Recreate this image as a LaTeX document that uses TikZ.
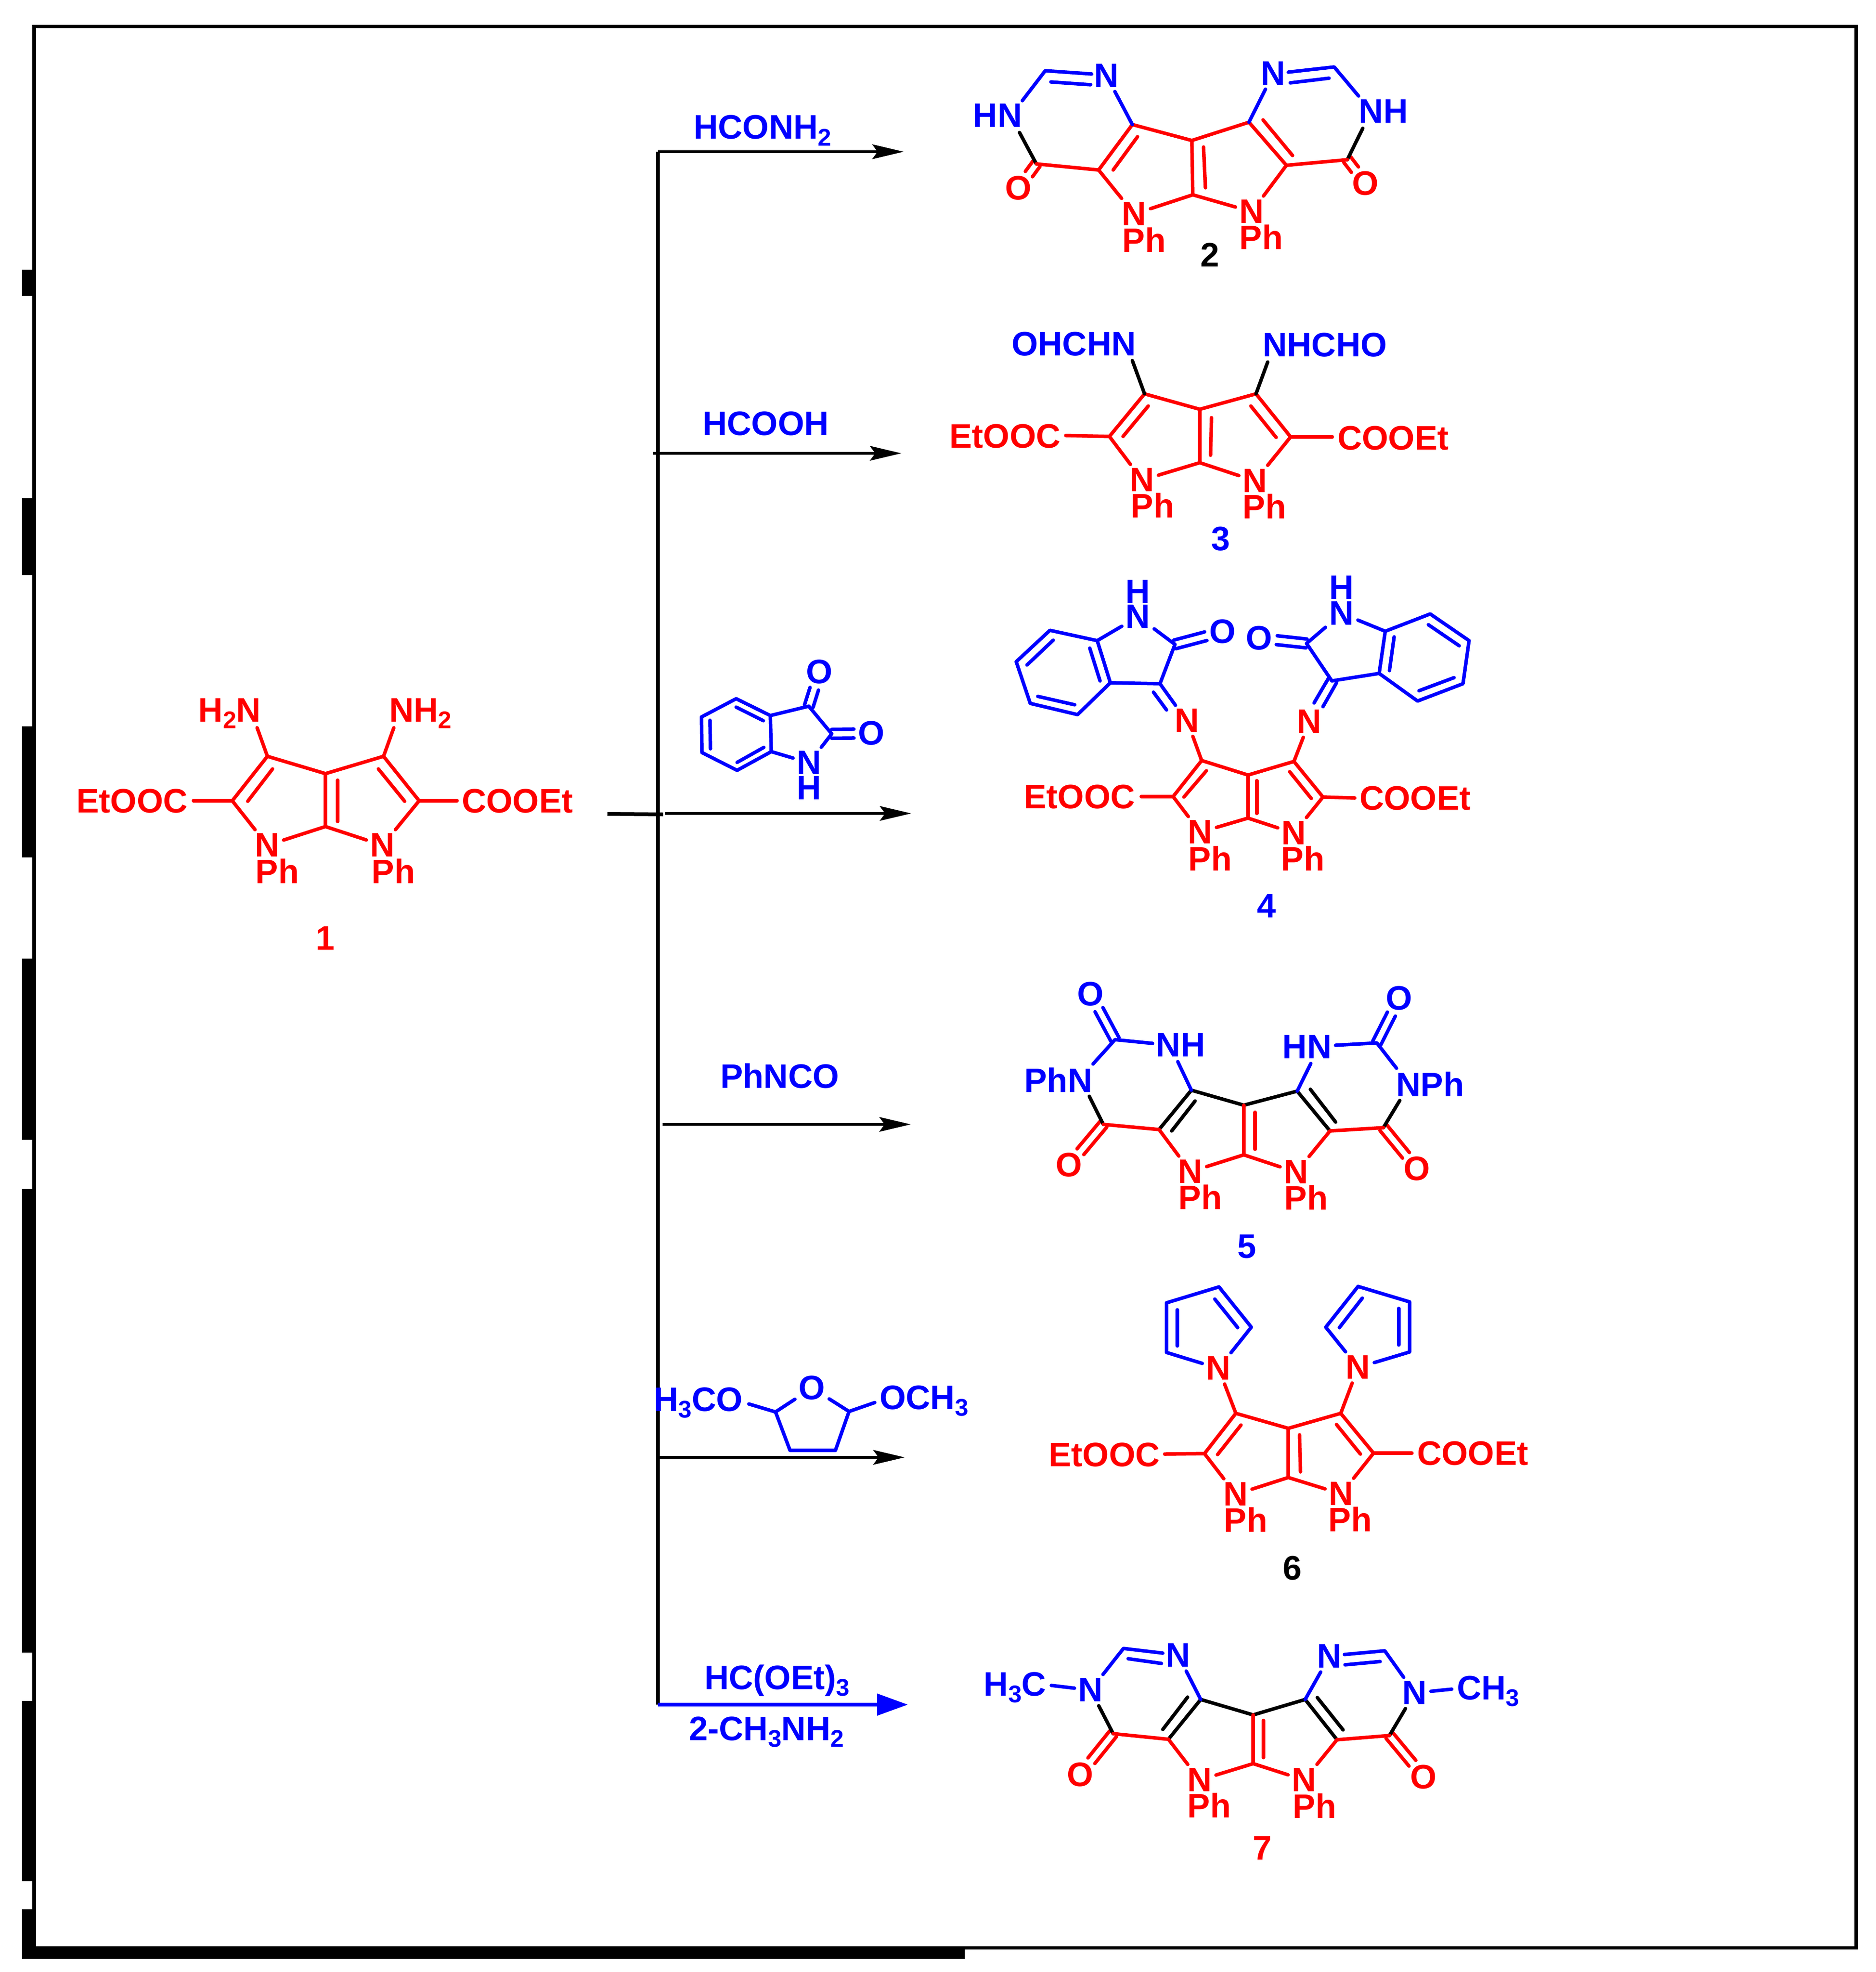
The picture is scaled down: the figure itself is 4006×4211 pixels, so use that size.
\documentclass[tikz,border=0pt]{standalone}
\usepackage{fontspec}
\setmainfont{Liberation Sans}
\usetikzlibrary{arrows.meta,calc}
\newcommand\Pt[2]{\coordinate (#1) at (#2);}
\newcommand\Sb[1]{\raisebox{-2.8pt}{\fontsize{10.3}{11}\selectfont #1}}
% parallel double bond from a coordinate to an atom node
\newcommand\CO[3]{%
  \draw[bond,#3,shorten >=7.5pt] ($(#1.center)!1.9pt!90:(#2.center)$) -- ($(#2.center)!1.9pt!-90:(#1.center)$);
  \draw[bond,#3,shorten >=7.5pt] ($(#1.center)!1.9pt!-90:(#2.center)$) -- ($(#2.center)!1.9pt!90:(#1.center)$);}
% bicyclic core: expects the coordinates <p>T,B,LT,RT,LM,RM,NLp,NRp,PLp,PRp,IL1,IL2,IR1,IR2,IC1,IC2
\newcommand\Core[2]{%
  \node[atom,red] (#1NL) at (#1NLp) {N};
  \node[atom,red] (#1NR) at (#1NRp) {N};
  \node[lab,red] (#1PL) at (#1PLp) {Ph};
  \node[lab,red] (#1PR) at (#1PRp) {Ph};
  \draw[bond,#2] (#1LM)--(#1LT)--(#1T)--(#1RT)--(#1RM);
  \draw[bond,#2] (#1IL1)--(#1IL2);
  \draw[bond,#2] (#1IR1)--(#1IR2);
  \draw[bond,red] (#1T)--(#1B);
  \draw[bond,red] (#1IC1)--(#1IC2);
  \draw[bond,red] (#1LM)--(#1NL);
  \draw[bond,red] (#1B)--(#1NL);
  \draw[bond,red] (#1B)--(#1NR);
  \draw[bond,red] (#1RM)--(#1NR);}
\tikzset{
  bond/.style={line width=1.5pt,line cap=round,line join=round},
  atom/.style={font=\fontsize{14.5}{16}\selectfont\bfseries,inner sep=1.5pt},
  lab/.style={font=\fontsize{14.5}{16}\selectfont\bfseries,inner sep=0pt},
  conn/.style={line width=1.6pt,black},
  rxn/.style={line width=1.35pt,black,-{Stealth[length=13.4pt,width=6.2pt,inset=2.2pt]}},
  rxnblue/.style={line width=1.7pt,blue,-{Triangle[length=13.2pt,width=9pt]}},
  frameline/.style={line width=1.55pt,black},
}
\begin{document}
\begin{tikzpicture}[x=0.2pt,y=-0.2pt]
\useasboundingbox (0,0) rectangle (4006,4211);
% frame and the heavy marks along its left and lower edges
\draw[frameline] (73,56.5) rectangle (3964,4159.5);
\fill[black] (47,576) rectangle (73,632);
\fill[black] (47,1064) rectangle (73,1228);
\fill[black] (47,1551) rectangle (73,1831);
\fill[black] (47,2047) rectangle (73,2434);
\fill[black] (47,2539) rectangle (73,3529);
\fill[black] (47,3632) rectangle (73,4017);
\fill[black] (47,4077) rectangle (73,4183);
\fill[black] (47,4156) rectangle (2060,4183);

% reaction scheme lines
\Pt{vTop}{1405,324}\Pt{vBot}{1405,3640}
\Pt{a1e}{1930,324}
\Pt{a2s}{1394,968}\Pt{a2e}{1925,968}
\Pt{a3a}{1297,1738}\Pt{a3b}{1416,1739}\Pt{a3c}{1420,1737}\Pt{a3e}{1946,1737}
\Pt{a4s}{1415,2401}\Pt{a4e}{1945,2401}
\Pt{a5s}{1405,3112}\Pt{a5e}{1932,3112}
\Pt{a6e}{1939,3640}\Pt{a6s}{1405,3640}
\draw[conn] (vTop)--(a6s);
\draw[rxn] (vTop)--(a1e);
\draw[rxn] (a2s)--(a2e);
\draw[conn] (a3a)--(a3b);
\draw[rxn] (a3c)--(a3e);
\draw[rxn] (a4s)--(a4e);
\draw[rxn] (a5s)--(a5e);
\draw[rxnblue] (a6s)--(a6e);

% reagents
\node[lab,blue,anchor=base west] (r1) at (1480,297) {HCONH\Sb{2}};
\node[lab,blue] (r2) at (1635,905) {HCOOH};
\node[lab,blue] (r4) at (1665,2298) {PhNCO};
\node[lab,blue,anchor=base west] (r6a) at (1503,3607) {HC(OEt)\Sb{3}};
\node[lab,blue,anchor=base west] (r6b) at (1470,3716) {2-CH\Sb{3}NH\Sb{2}};

% isatin reagent
\Pt{iA}{1572,1492}\Pt{iB}{1498,1531}\Pt{iC}{1499,1607}\Pt{iD}{1574,1645}\Pt{iE}{1647,1605}\Pt{iF}{1645,1528}\Pt{iG}{1727,1508}\Pt{iH}{1776,1567}
\node[atom,blue] (iN) at (1728,1629) {N};
\node[lab,blue] (iNH) at (1728,1683) {H};
\node[atom,blue] (iO1) at (1750,1435) {O};
\node[atom,blue] (iO2) at (1861,1566) {O};
\CO{iG}{iO1}{blue}
\CO{iH}{iO2}{blue}
\draw[bond,blue] (iF)--(iA)--(iB)--(iC)--(iD)--(iE)--(iF)--(iG)--(iH)--(iN);
\draw[bond,blue] (iE)--(iN);
\draw[bond,blue] (1572,1510)--(1630,1539);
\draw[bond,blue] (1516,1538)--(1517,1599);
\draw[bond,blue] (1574,1628)--(1631,1596);

% dimethoxytetrahydrofuran reagent
\Pt{fC1}{1656,3015}\Pt{fC2}{1813,3014}\Pt{fC3}{1784,3097}\Pt{fC4}{1687,3097}
\node[atom,blue] (fO) at (1734,2964) {O};
\node[lab,blue,anchor=base east] (fL) at (1587,3013) {H\Sb{3}CO};
\node[lab,blue,anchor=base west] (fR) at (1877,3009) {OCH\Sb{3}};
\Pt{fLe}{1599,2998}\Pt{fRe}{1868,2995}
\draw[bond,blue] (fLe)--(fC1)--(fO);
\draw[bond,blue] (fRe)--(fC2)--(fO);
\draw[bond,blue] (fC1)--(fC4)--(fC3)--(fC2);

% compound 1
\Pt{aT}{695,1652}\Pt{aB}{695,1765}\Pt{aLT}{571,1615}\Pt{aRT}{819,1615}\Pt{aLM}{496,1710}\Pt{aRM}{895,1710}
\Pt{aNLp}{571,1805}\Pt{aNRp}{817,1805}\Pt{aPLp}{592,1860}\Pt{aPRp}{840,1860}
\Pt{aIL1}{582,1642}\Pt{aIL2}{529,1711}\Pt{aIR1}{808,1642}\Pt{aIR2}{864,1711}\Pt{aIC1}{721,1666}\Pt{aIC2}{721,1754}
\Core{a}{red}
\node[lab,red] (aE1) at (282,1711) {EtOOC};
\node[lab,red] (aE2) at (1105,1711) {COOEt};
\node[lab,red,anchor=base east] (aA1) at (558,1541) {H\Sb{2}N};
\node[lab,red,anchor=base west] (aA2) at (830,1541) {NH\Sb{2}};
\node[lab,red] (n1) at (695,2004) {1};
\Pt{aE1e}{413,1710}\Pt{aE2e}{976,1710}\Pt{aA1e}{549,1554}\Pt{aA2e}{841,1554}
\draw[bond,red] (aE1e)--(aLM);
\draw[bond,red] (aE2e)--(aRM);
\draw[bond,red] (aA1e)--(aLT);
\draw[bond,red] (aA2e)--(aRT);

% compound 2
\Pt{bT}{2545,300}\Pt{bB}{2547,416}\Pt{bLT}{2418,266}\Pt{bRT}{2667,261}\Pt{bLM}{2346,363}\Pt{bRM}{2747,353}
\Pt{bNLp}{2422,457}\Pt{bNRp}{2673,452}\Pt{bPLp}{2443,512}\Pt{bPRp}{2693,506}
\Pt{bIL1}{2429,292}\Pt{bIL2}{2377,363}\Pt{bIR1}{2697,256}\Pt{bIR2}{2760,332}\Pt{bIC1}{2570,314}\Pt{bIC2}{2574,401}
\Core{b}{red}
\Pt{bCL}{2213,350}\Pt{bCR}{2877,341}\Pt{bCH1}{2232,151}\Pt{bCH2}{2849,143}
\node[atom,red] (bOL) at (2175,402) {O};
\node[atom,red] (bOR) at (2916,392) {O};
\node[lab,blue] (bHN) at (2130,247) {HN};
\node[lab,blue] (bNH) at (2954,238) {NH};
\node[atom,blue] (bN1) at (2363,162) {N};
\node[atom,blue] (bN2) at (2719,157) {N};
\node[lab] (n2) at (2584,544) {2};
\CO{bCL}{bOL}{red}
\CO{bCR}{bOR}{red}
\Pt{bHNa}{2183,215}\Pt{bHNb}{2177,283}\Pt{bNHa}{2901,205}\Pt{bNHb}{2910,274}
\draw[bond,blue] (bHNa)--(bCH1)--(2331,158);
\draw[bond,blue] (2244,175)--(2329,181);
\draw[bond,blue] (bNHa)--(bCH2)--(2751,154);
\draw[bond,blue] (2838,167)--(2755,177);
\draw[bond,blue] (bN1)--(bLT);
\draw[bond,blue] (bN2)--(bRT);
\draw[bond,black] (bHNb)--(bCL);
\draw[bond,black] (bNHb)--(bCR);
\draw[bond,red] (bCL)--(bLM);
\draw[bond,red] (bCR)--(bRM);

% compound 3
\Pt{cT}{2562,874}\Pt{cB}{2562,988}\Pt{cLT}{2444,841}\Pt{cRT}{2682,841}\Pt{cLM}{2369,932}\Pt{cRM}{2756,933}
\Pt{cNLp}{2439,1025}\Pt{cNRp}{2680,1027}\Pt{cPLp}{2461,1079}\Pt{cPRp}{2700,1081}
\Pt{cIL1}{2452,867}\Pt{cIL2}{2398,932}\Pt{cIR1}{2671,867}\Pt{cIR2}{2725,934}\Pt{cIC1}{2587,892}\Pt{cIC2}{2585,972}
\Core{c}{red}
\node[lab,red] (cE1) at (2146,932) {EtOOC};
\node[lab,red] (cE2) at (2975,936) {COOEt};
\node[lab,blue] (cF1) at (2293,735) {OHCHN};
\node[lab,blue] (cF2) at (2829,737) {NHCHO};
\node[lab,blue] (n3) at (2607,1151) {3};
\Pt{cE1e}{2276,930}\Pt{cE2e}{2845,933}\Pt{cF1e}{2418,770}\Pt{cF2e}{2707,773}
\draw[bond,red] (cE1e)--(cLM);
\draw[bond,red] (cE2e)--(cRM);
\draw[bond,black] (cF1e)--(cLT);
\draw[bond,black] (cF2e)--(cRT);

% compound 4
\Pt{dT}{2665,1655}\Pt{dB}{2665,1747}\Pt{dLT}{2566,1624}\Pt{dRT}{2763,1626}\Pt{dLM}{2505,1701}\Pt{dRM}{2825,1702}
\Pt{dNLp}{2563,1777}\Pt{dNRp}{2763,1779}\Pt{dPLp}{2584,1833}\Pt{dPRp}{2782,1833}
\Pt{dIL1}{2576,1646}\Pt{dIL2}{2528,1702}\Pt{dIR1}{2754,1648}\Pt{dIR2}{2800,1705}\Pt{dIC1}{2684,1667}\Pt{dIC2}{2684,1737}
\Core{d}{red}
\node[lab,red] (dE1) at (2305,1702) {EtOOC};
\node[lab,red] (dE2) at (3022,1705) {COOEt};
\node[lab,blue] (n4) at (2705,1935) {4};
\Pt{dE1e}{2437,1701}\Pt{dE2e}{2893,1704}
\draw[bond,red] (dE1e)--(dLM);
\draw[bond,red] (dE2e)--(dRM);
\node[atom,red] (dNA) at (2535,1539) {N};
\node[atom,red] (dNB) at (2796,1541) {N};
\draw[bond,red] (dNA)--(dLT);
\draw[bond,red] (dNB)--(dRT);
% left isatin unit
\Pt{eC3}{2477,1460}\Pt{eC2}{2509,1376}\Pt{eA}{2343,1368}\Pt{eB}{2371,1458}\Pt{eC}{2242,1346}\Pt{eD}{2170,1413}\Pt{eE}{2200,1502}\Pt{eF}{2301,1526}
\node[atom,blue] (eN) at (2430,1317) {N};
\node[lab,blue] (eH) at (2430,1264) {H};
\node[atom,blue] (eO) at (2611,1349) {O};
\CO{eC2}{eO}{blue}
\draw[bond,blue] (eC3)--(2510,1506);
\draw[bond,blue] (2463,1478)--(2491,1516);
\draw[bond,blue] (eC3)--(eC2)--(eN)--(eA)--(eB)--(eC3);
\draw[bond,blue] (eA)--(eC)--(eD)--(eE)--(eF)--(eB);
\draw[bond,blue] (2327,1384)--(2349,1454);
\draw[bond,blue] (2249,1367)--(2193,1420);
\draw[bond,blue] (2216,1487)--(2295,1505);
% right isatin unit
\Pt{gC3}{2844,1454}\Pt{gC2}{2790,1374}\Pt{gA}{2958,1348}\Pt{gB}{2945,1438}\Pt{gC}{3054,1311}\Pt{gD}{3137,1368}\Pt{gE}{3124,1460}\Pt{gF}{3027,1497}
\node[atom,blue] (gN) at (2865,1310) {N};
\node[lab,blue] (gH) at (2865,1255) {H};
\node[atom,blue] (gO) at (2689,1363) {O};
\CO{gC2}{gO}{blue}
\draw[bond,blue] (2854,1458)--(2825,1509);
\draw[bond,blue] (2837,1448)--(2806,1501);
\draw[bond,blue] (gC3)--(gC2)--(gN)--(gA)--(gB)--(gC3);
\draw[bond,blue] (gA)--(gC)--(gD)--(gE)--(gF)--(gB);
\draw[bond,blue] (2977,1360)--(2967,1432);
\draw[bond,blue] (3050,1334)--(3116,1379);
\draw[bond,blue] (3105,1447)--(3030,1475);

% compound 5
\Pt{hT}{2656,2360}\Pt{hB}{2656,2466}\Pt{hLT}{2544,2328}\Pt{hRT}{2770,2330}\Pt{hLM}{2475,2412}\Pt{hRM}{2840,2415}
\Pt{hNLp}{2542,2502}\Pt{hNRp}{2768,2503}\Pt{hPLp}{2563,2556}\Pt{hPRp}{2789,2557}
\Pt{hIL1}{2552,2351}\Pt{hIL2}{2502,2415}\Pt{hIR1}{2798,2326}\Pt{hIR2}{2852,2396}\Pt{hIC1}{2680,2375}\Pt{hIC2}{2680,2454}
\Core{h}{black}
\Pt{hCtL}{2381,2220}\Pt{hCtR}{2940,2227}\Pt{hCbL}{2356,2401}\Pt{hCbR}{2954,2408}
\node[lab,blue] (hNH) at (2521,2232) {NH};
\node[lab,blue] (hHN) at (2791,2236) {HN};
\node[lab,blue] (hPN) at (2260,2306) {PhN};
\node[lab,blue] (hNP) at (3054,2315) {NPh};
\node[atom,blue] (hOtL) at (2329,2123) {O};
\node[atom,blue] (hOtR) at (2988,2132) {O};
\node[atom,red] (hObL) at (2283,2488) {O};
\node[atom,red] (hObR) at (3026,2496) {O};
\node[lab,blue] (n5) at (2663,2662) {5};
\CO{hCtL}{hOtL}{blue}
\CO{hCtR}{hOtR}{blue}
\CO{hCbL}{hObL}{red}
\CO{hCbR}{hObR}{red}
\Pt{hE1}{2461,2228}\Pt{hE2}{2852,2232}\Pt{hE3}{2334,2272}\Pt{hE4}{2982,2281}\Pt{hE5}{2326,2341}\Pt{hE6}{2989,2350}\Pt{hE7}{2515,2267}\Pt{hE8}{2799,2271}
\draw[bond,blue] (hE1)--(hCtL)--(hE3);
\draw[bond,blue] (hE2)--(hCtR)--(hE4);
\draw[bond,blue] (hE7)--(hLT);
\draw[bond,blue] (hE8)--(hRT);
\draw[bond,black] (hE5)--(hCbL);
\draw[bond,black] (hE6)--(hCbR);
\draw[bond,red] (hCbL)--(hLM);
\draw[bond,red] (hCbR)--(hRM);

% compound 6
\Pt{kT}{2751,3050}\Pt{kB}{2751,3155}\Pt{kLT}{2639,3018}\Pt{kRT}{2863,3018}\Pt{kLM}{2572,3104}\Pt{kRM}{2933,3103}
\Pt{kNLp}{2639,3191}\Pt{kNRp}{2864,3190}\Pt{kPLp}{2660,3245}\Pt{kPRp}{2883,3244}
\Pt{kIL1}{2650,3043}\Pt{kIL2}{2600,3106}\Pt{kIR1}{2854,3042}\Pt{kIR2}{2905,3105}\Pt{kIC1}{2775,3064}\Pt{kIC2}{2777,3143}
\Core{k}{red}
\node[lab,red] (kE1) at (2358,3107) {EtOOC};
\node[lab,red] (kE2) at (3145,3104) {COOEt};
\node[lab] (n6) at (2760,3349) {6};
\Pt{kE1e}{2487,3105}\Pt{kE2e}{3015,3103}
\draw[bond,red] (kE1e)--(kLM);
\draw[bond,red] (kE2e)--(kRM);
\node[atom,red] (kNA) at (2602,2922) {N};
\node[atom,red] (kNB) at (2900,2920) {N};
\draw[bond,red] (kNA)--(kLT);
\draw[bond,red] (kNB)--(kRT);
\Pt{pA}{2672,2834}\Pt{pB}{2603,2748}\Pt{pC}{2491,2782}\Pt{pD}{2491,2888}
\draw[bond,blue] (kNA)--(pA)--(pB)--(pC)--(pD)--(kNA);
\draw[bond,blue] (2594,2774)--(2643,2835);
\draw[bond,blue] (2514,2797)--(2514,2874);
\Pt{qA}{2831,2834}\Pt{qB}{2900,2747}\Pt{qC}{3010,2780}\Pt{qD}{3010,2887}
\draw[bond,blue] (kNB)--(qA)--(qB)--(qC)--(qD)--(kNB);
\draw[bond,blue] (2909,2772)--(2860,2835);
\draw[bond,blue] (2987,2794)--(2987,2872);

% compound 7
\Pt{mT}{2676,3662}\Pt{mB}{2676,3766}\Pt{mLT}{2564,3629}\Pt{mRT}{2787,3629}\Pt{mLM}{2495,3714}\Pt{mRM}{2855,3715}
\Pt{mNLp}{2562,3801}\Pt{mNRp}{2785,3801}\Pt{mPLp}{2582,3855}\Pt{mPRp}{2807,3856}
\Pt{mIL1}{2536,3624}\Pt{mIL2}{2483,3693}\Pt{mIR1}{2813,3625}\Pt{mIR2}{2868,3694}\Pt{mIC1}{2698,3674}\Pt{mIC2}{2698,3753}
\Core{m}{black}
\Pt{mCL}{2377,3702}\Pt{mCR}{2967,3706}\Pt{mCH1}{2399,3520}\Pt{mCH2}{2957,3525}
\node[atom,red] (mOL) at (2307,3789) {O};
\node[atom,red] (mOR) at (3040,3794) {O};
\node[atom,blue] (mNA) at (2329,3609) {N};
\node[atom,blue] (mNB) at (3021,3615) {N};
\node[atom,blue] (mN1) at (2516,3535) {N};
\node[atom,blue] (mN2) at (2839,3537) {N};
\node[lab,blue,anchor=base east] (mMe1) at (2235,3621) {H\Sb{3}C};
\node[lab,blue,anchor=base west] (mMe2) at (3110,3629) {CH\Sb{3}};
\node[lab,red] (n7) at (2696,3947) {7};
\CO{mCL}{mOL}{red}
\CO{mCR}{mOR}{red}
\Pt{mE1}{2245,3599}\Pt{mE2}{3100,3607}
\draw[bond,blue] (mE1)--(mNA);
\draw[bond,blue] (mE2)--(mNB);
\draw[bond,blue] (mNA)--(mCH1)--(2483,3530);
\draw[bond,blue] (2409,3542)--(2480,3552);
\draw[bond,blue] (mNB)--(mCH2)--(2871,3533);
\draw[bond,blue] (2947,3548)--(2872,3555);
\draw[bond,blue] (mN1)--(mLT);
\draw[bond,blue] (mN2)--(mRT);
\draw[bond,black] (mNA)--(mCL);
\draw[bond,black] (mNB)--(mCR);
\draw[bond,red] (mCL)--(mLM);
\draw[bond,red] (mCR)--(mRM);
\end{tikzpicture}
\end{document}
